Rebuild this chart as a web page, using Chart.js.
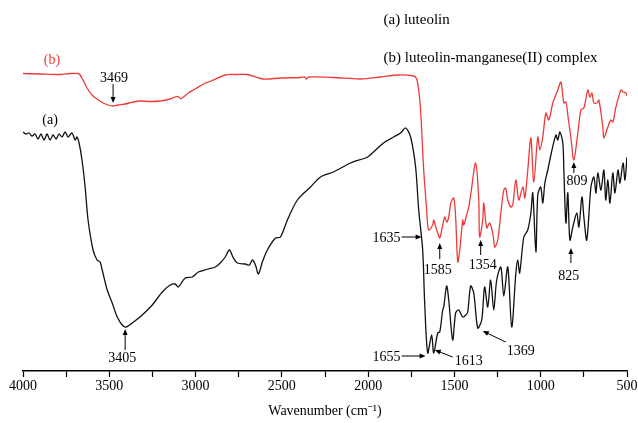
<!DOCTYPE html>
<html>
<head>
<meta charset="utf-8">
<script src="https://cdn.jsdelivr.net/npm/chart.js@4.4.1/dist/chart.umd.min.js"></script>
<style>
  body { margin: 0; background: #fff; }
</style>
</head>
<body>
<canvas id="grafico" width="638" height="423"></canvas>
<script>
// espectros IR (número de onda, transmitância em unidades arbitrárias)
// (a) luteolina
const wnA = [4000, 3983, 3965, 3948, 3930, 3913, 3896, 3878, 3861, 3843, 3826, 3808, 3791, 3774, 3756, 3739, 3716, 3698, 3687, 3675,
  3658, 3640, 3623, 3594, 3571, 3553, 3541, 3512, 3483, 3454, 3425, 3402, 3367, 3309, 3251, 3193, 3147, 3118, 3100, 3060,
  3019, 2984, 2926, 2886, 2857, 2828, 2804, 2781, 2758, 2711, 2688, 2671, 2653, 2636, 2613, 2584, 2537, 2508, 2468, 2410,
  2334, 2276, 2201, 2102, 2003, 1969, 1911, 1853, 1812, 1783, 1754, 1725, 1707, 1684, 1673, 1655, 1632, 1620, 1597, 1585,
  1568, 1562, 1545, 1533, 1510, 1493, 1475, 1452, 1434, 1423, 1406, 1388, 1365, 1342, 1325, 1307, 1290, 1272, 1255, 1231,
  1214, 1191, 1168, 1144, 1133, 1122, 1098, 1075, 1057, 1046, 1028, 1017, 1000, 988, 976, 959, 941, 912, 901, 889, 872,
  866, 854, 843, 831, 814, 791, 779, 761, 750, 733, 709, 692, 680, 669, 651, 634, 623, 611, 599, 582,
  570, 552, 541, 523, 512, 500]
const tA = [47.8, 47.4, 47.6, 47.0, 47.4, 46.4, 47.4, 46.2, 47.4, 46.2, 47.2, 46.4, 47.4, 46.8, 47.8, 46.8, 47.6, 46.2, 46.8, 45.6,
  42.2, 36.8, 30.2, 24.2, 22.2, 21.8, 20.2, 16.2, 13.6, 10.8, 9.2, 8.8, 9.6, 11.2, 13.2, 15.8, 17.2, 17.4, 16.8, 18.6,
  18.8, 19.8, 20.4, 20.8, 21.6, 22.8, 24.2, 22.6, 21.6, 21.4, 21.2, 22.2, 21.2, 19.4, 21.8, 24.2, 26.6, 26.8, 30.2, 34.2,
  36.8, 38.8, 39.8, 41.6, 42.8, 43.8, 45.6, 46.8, 47.6, 48.6, 46.8, 40.8, 32.2, 24.2, 14.2, 3.6, 7.2, 3.6, 7.6, 7.8,
  12.2, 12.8, 17.0, 14.2, 6.2, 11.6, 12.2, 10.8, 11.2, 11.8, 17.0, 15.6, 8.6, 10.2, 16.8, 12.8, 18.2, 12.2, 18.2, 20.8,
  15.0, 20.8, 8.8, 19.6, 22.2, 19.6, 26.8, 28.2, 31.6, 35.6, 23.8, 35.2, 36.8, 33.6, 37.6, 40.2, 43.2, 47.2, 46.2, 47.8, 45.6,
  40.2, 29.6, 35.6, 26.2, 28.8, 31.6, 28.8, 34.8, 30.8, 26.2, 36.8, 38.8, 35.6, 39.6, 36.2, 40.2, 34.2, 38.2, 33.6, 39.6,
  35.6, 40.2, 37.6, 41.6, 38.2, 42.8]
// (b) complexo luteolina-manganês(II)
const wnB = [4000, 3901, 3785, 3727, 3681, 3669, 3652, 3629, 3600, 3571, 3536, 3507, 3478, 3449, 3408, 3362, 3321, 3263, 3205, 3147,
  3118, 3100, 3089, 3077, 3042, 3002, 2944, 2915, 2828, 2758, 2700, 2607, 2508, 2392, 2369, 2357, 2346, 2201, 2044, 1928,
  1829, 1736, 1719, 1707, 1696, 1678, 1661, 1655, 1649, 1626, 1620, 1608, 1597, 1585, 1568, 1556, 1545, 1533, 1521, 1504,
  1493, 1481, 1469, 1452, 1446, 1429, 1417, 1406, 1377, 1359, 1354, 1336, 1330, 1313, 1296, 1278, 1266, 1249, 1231, 1214,
  1203, 1191, 1173, 1162, 1144, 1127, 1104, 1092, 1075, 1057, 1040, 1017, 1005, 988, 970, 953, 930, 901, 883, 866,
  854, 843, 825, 808, 785, 767, 750, 727, 715, 703, 692, 674, 663, 640, 634, 611, 594, 582, 564, 535,
  523, 506, 500]
const tB = [59.5, 59.4, 59.3, 59.5, 59.5, 59.2, 58.2, 56.6, 55.2, 54.4, 53.6, 53.2, 53.0, 53.2, 53.4, 53.8, 54.0, 53.9, 54.0, 54.4,
  54.8, 54.9, 54.5, 54.6, 55.6, 56.4, 57.6, 57.9, 59.2, 59.3, 59.3, 58.4, 58.6, 58.7, 58.8, 58.4, 58.8, 58.7, 58.4, 58.8,
  59.2, 59.0, 58.4, 56.2, 52.2, 40.2, 32.2, 29.2, 28.2, 29.2, 30.2, 28.8, 27.6, 26.6, 29.2, 30.8, 29.8, 30.8, 33.6, 34.6,
  30.8, 21.8, 24.2, 30.2, 29.2, 31.2, 32.8, 35.2, 41.6, 34.2, 26.8, 30.2, 33.6, 28.6, 29.6, 27.6, 24.8, 26.2, 31.6, 36.2,
  36.6, 34.2, 32.8, 33.2, 38.2, 34.2, 36.8, 34.6, 40.2, 46.6, 37.8, 46.8, 44.2, 46.8, 51.6, 50.2, 53.6, 56.2, 57.8, 53.6,
  53.8, 51.2, 46.6, 42.2, 47.6, 52.2, 52.6, 56.2, 54.8, 55.6, 53.6, 53.6, 54.2, 48.8, 46.6, 48.8, 50.2, 49.8, 52.8, 56.2,
  55.8, 55.6, 55.0]
// marcas do eixo x
const xTicks = [4000, 3500, 3000, 2500, 2000, 1500, 1000, 500]

const pontos = (wn, t) => wn.map((w, i) => ({ x: w, y: t[i] }))

const fonteSerif = '"Liberation Serif", "Times New Roman", serif'

// rótulos das bandas: texto, posição do texto e seta (em coordenadas do gráfico)
const rotulos = [
  { texto: '3469', tx: 3472, ty: 58.6, seta: [3478, 57.4, 3478, 53.6] },
  { texto: '3405', tx: 3425, ty: 2.6, seta: [3408, 4.2, 3408, 8.4] },
  { texto: '1635', tx: 1893, ty: 26.6, seta: [1806, 26.8, 1690, 26.8] },
  { texto: '1655', tx: 1893, ty: 2.8, seta: [1806, 3.0, 1667, 3.0] },
  { texto: '1613', tx: 1417, ty: 2.0, seta: [1510, 2.8, 1614, 4.2] },
  { texto: '1369', tx: 1115, ty: 4.0, seta: [1203, 5.8, 1336, 8.0] },
  { texto: '1585', tx: 1597, ty: 20.2, seta: [1585, 22.4, 1585, 25.6] },
  { texto: '1354', tx: 1336, ty: 21.2, seta: [1348, 23.2, 1348, 26.2] },
  { texto: '825', tx: 837, ty: 19.0, seta: [825, 21.6, 825, 24.6] },
  { texto: '809', tx: 790, ty: 38.0, seta: [808, 39.6, 808, 41.8] },
  { texto: '(a)', tx: 3843, ty: 50.2, cor: '#000' },
  { texto: '(b)', tx: 3832, ty: 62.2, cor: '#f03a3a' },
  { texto: '(a) luteolin', tx: 1911, ty: 70.2, esquerda: true },
  { texto: '(b) luteolin-manganese(II) complex', tx: 1911, ty: 62.6, esquerda: true },
]

function desenhaSeta(ctx, x1, y1, x2, y2) {
  const ang = Math.atan2(y2 - y1, x2 - x1)
  const cab = 6
  ctx.beginPath()
  ctx.moveTo(x1, y1)
  ctx.lineTo(x2 - Math.cos(ang) * cab * 0.8, y2 - Math.sin(ang) * cab * 0.8)
  ctx.stroke()
  ctx.beginPath()
  ctx.moveTo(x2, y2)
  ctx.lineTo(x2 - cab * Math.cos(ang) + 2.5 * Math.sin(ang), y2 - cab * Math.sin(ang) - 2.5 * Math.cos(ang))
  ctx.lineTo(x2 - cab * Math.cos(ang) - 2.5 * Math.sin(ang), y2 - cab * Math.sin(ang) + 2.5 * Math.cos(ang))
  ctx.closePath()
  ctx.fill()
}

const pluginRotulos = {
  id: 'rotulos',
  afterDraw(chart) {
    const { ctx, scales: { x, y } } = chart
    ctx.save()
    ctx.textBaseline = 'middle'
    ctx.lineWidth = 1
    rotulos.forEach(r => {
      ctx.fillStyle = r.cor || '#000'
      ctx.strokeStyle = '#000'
      ctx.font = (r.esquerda ? '15px ' : '14px ') + fonteSerif
      ctx.textAlign = r.esquerda ? 'left' : 'center'
      ctx.fillText(r.texto, x.getPixelForValue(r.tx), y.getPixelForValue(r.ty))
      if (r.seta) {
        ctx.fillStyle = '#000'
        desenhaSeta(ctx,
          x.getPixelForValue(r.seta[0]), y.getPixelForValue(r.seta[1]),
          x.getPixelForValue(r.seta[2]), y.getPixelForValue(r.seta[3]))
      }
    })
    ctx.restore()
  }
}

new Chart(document.getElementById('grafico'), {
  type: 'line',
  data: {
    datasets: [{
      label: '(a) luteolin',
      data: pontos(wnA, tA),
      borderColor: '#111',
      borderWidth: 1.3,
      tension: 0.3,
      pointRadius: 0,
      fill: false
    }, {
      label: '(b) luteolin-manganese(II) complex',
      data: pontos(wnB, tB),
      borderColor: '#f03a3a',
      borderWidth: 1.3,
      tension: 0.3,
      pointRadius: 0,
      fill: false
    }]
  },
  options: {
    responsive: false,
    animation: false,
    layout: { padding: { left: 23, right: 11, top: 21, bottom: 0 } },
    plugins: {
      legend: { display: false },
      tooltip: { enabled: false }
    },
    scales: {
      x: {
        type: 'linear',
        reverse: true,
        min: 500,
        max: 4000,
        afterFit: (scale) => { scale.height = 52 },
        afterBuildTicks: (scale) => {
          const t = []
          for (let v = 500; v <= 4000; v += 250) t.push({ value: v })
          scale.ticks = t
        },
        ticks: {
          color: '#000',
          padding: 1,
          maxRotation: 0,
          autoSkip: false,
          font: { family: fonteSerif, size: 14 },
          callback: (v) => xTicks.includes(v) ? String(v) : ''
        },
        grid: {
          drawOnChartArea: false,
          tickLength: 6,
          tickColor: '#000',
          tickWidth: 1.2
        },
        border: { color: '#000', width: 1.5 },
        title: {
          display: true,
          text: 'Wavenumber (cm⁻¹)',
          color: '#000',
          font: { family: fonteSerif, size: 14 },
          padding: { top: 0, bottom: 3 }
        }
      },
      y: {
        display: false,
        min: 0,
        max: 70
      }
    }
  },
  plugins: [pluginRotulos]
})
</script>
</body>
</html>
